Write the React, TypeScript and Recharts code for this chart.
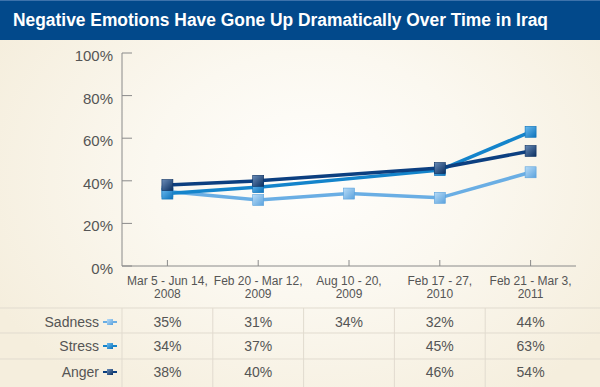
import React from "react";
import { LineChart, Line, XAxis, YAxis } from "recharts";

const TITLE = "Negative Emotions Have Gone Up Dramatically Over Time in Iraq";
const categoryDates = ["Mar 5 - Jun 14,", "Feb 20 - Mar 12,", "Aug 10 - 20,", "Feb 17 - 27,", "Feb 21 - Mar 3,"];
const categoryYears = ["2008", "2009", "2009", "2010", "2011"];
const seriesNames = ["Sadness", "Stress", "Anger"];
const sadness = [35, 31, 34, 32, 44];
const stress = [34, 37, null, 45, 63];
const anger = [38, 40, null, 46, 54];
const yTicks = [0, 20, 40, 60, 80, 100];

const seriesValues = [sadness, stress, anger];
const seriesKeys = ["sadness", "stress", "anger"];
const lineColors = ["#6aaee4", "#1484cb", "#0c3f80"];
const gradTop = ["#b9dcf7", "#6dbcf0", "#6a8cb8"];
const gradBottom = ["#5aa2dd", "#0c72ba", "#0a2f60"];

const data = categoryDates.map((d, i) => ({
  cat: d + " " + categoryYears[i],
  sadness: sadness[i],
  stress: stress[i],
  anger: anger[i],
}));

const W = 600;
const H = 387;
const PLOT_LEFT = 122;
const PLOT_RIGHT = 576;
const PLOT_TOP = 53;
const AXIS_Y = 266;
const BAND = (PLOT_RIGHT - PLOT_LEFT) / categoryDates.length;
const ROW_LINES = [308, 333, 359];
const ROW_CENTERS = [322, 346, 372];
const AXIS_COLOR = "#8a8a8a";
const GRID_COLOR = "#e1dbcf";
const TEXT_COLOR = "#555555";
const FONT = "'Liberation Sans', Arial, Helvetica, sans-serif";
const Y_AXIS_W = 60;
const X_AXIS_H = 30;

const XTick = (props: any) => {
  const { x, index } = props;
  const i = index;
  return (
    <g>
      <line x1={x} x2={x} y1={AXIS_Y} y2={AXIS_Y - 6} stroke={AXIS_COLOR} strokeWidth={1} />
      <text x={x} y={285} textAnchor="middle" fontSize={12} fill={TEXT_COLOR} fontFamily={FONT}>
        {categoryDates[i]}
      </text>
      <text x={x} y={298} textAnchor="middle" fontSize={12} fill={TEXT_COLOR} fontFamily={FONT}>
        {categoryYears[i]}
      </text>
      <line x1={x - BAND / 2} x2={x - BAND / 2} y1={ROW_LINES[0]} y2={H} stroke={GRID_COLOR} strokeWidth={1} />
      {seriesValues.map((vals, r) =>
        vals[i] == null ? null : (
          <text key={r} x={x} y={ROW_CENTERS[r] + 5} textAnchor="middle" fontSize={14} fill={TEXT_COLOR} fontFamily={FONT}>
            {vals[i]}%
          </text>
        )
      )}
    </g>
  );
};

const YTick = (props: any) => {
  const { y, payload } = props;
  return (
    <g>
      <line x1={PLOT_LEFT} x2={PLOT_LEFT + 10} y1={y} y2={y} stroke={AXIS_COLOR} strokeWidth={1} />
      <text x={113} y={y + 8} textAnchor="end" fontSize={15} fill={TEXT_COLOR} fontFamily={FONT}>
        {payload.value}%
      </text>
    </g>
  );
};

const makeDot = (s: number) => (p: any) => {
  const { cx, cy, index, value } = p;
  if (value == null || cx == null || cy == null) return <g key={index} />;
  return (
    <rect
      key={index}
      x={cx - 5.5}
      y={cy - 5.5}
      width={11}
      height={11}
      fill={`url(#mk${s})`}
      stroke={gradBottom[s]}
      strokeWidth={0.6}
    />
  );
};

export default function App() {
  return (
    <div
      style={{
        position: "absolute",
        left: 0,
        top: 0,
        width: W,
        height: H,
        overflow: "hidden",
        background:
          "radial-gradient(ellipse 60% 70% at 52% 45%, #fffefc 0%, #fbf8f0 45%, #f5eedd 100%)",
      }}
    >
      <svg width={0} height={0} style={{ position: "absolute" }}>
        <defs>
          {seriesNames.map((_, s) => (
            <linearGradient key={s} id={`mk${s}`} x1="0" y1="0" x2="1" y2="1">
              <stop offset="0%" stopColor={gradTop[s]} />
              <stop offset="100%" stopColor={gradBottom[s]} />
            </linearGradient>
          ))}
        </defs>
      </svg>
      <svg width={W} height={H} style={{ position: "absolute", left: 0, top: 0 }}>
        <rect x={0} y={0} width={W} height={40} fill="#02498b" />
        <rect x={0} y={0} width={W} height={1} fill="#3d72ab" />
        <text
          x={13}
          y={26}
          fill="#ffffff"
          fontSize={18}
          fontWeight="bold"
          fontFamily={FONT}
          textLength={535}
          lengthAdjust="spacingAndGlyphs"
        >
          {TITLE}
        </text>
        {ROW_LINES.map((y, k) => (
          <line key={k} x1={0} x2={W} y1={y} y2={y} stroke={GRID_COLOR} strokeWidth={1} />
        ))}
        {seriesNames.map((n, s) => (
          <g key={n}>
            <text x={99} y={ROW_CENTERS[s] + 5} textAnchor="end" fontSize={14} fill={TEXT_COLOR} fontFamily={FONT}>
              {n}
            </text>
            <line x1={103} x2={117} y1={ROW_CENTERS[s]} y2={ROW_CENTERS[s]} stroke={lineColors[s]} strokeWidth={2} />
            <rect x={107} y={ROW_CENTERS[s] - 3} width={6} height={6} fill={`url(#mk${s})`} />
          </g>
        ))}
      </svg>
      <div style={{ position: "absolute", left: 0, top: 0 }}>
        <LineChart
          width={W}
          height={H}
          data={data}
          margin={{
            top: PLOT_TOP,
            right: W - PLOT_RIGHT,
            bottom: H - AXIS_Y - X_AXIS_H,
            left: PLOT_LEFT - Y_AXIS_W,
          }}
        >
          <XAxis
            dataKey="cat"
            height={X_AXIS_H}
            interval={0}
            padding={{ left: BAND / 2, right: BAND / 2 }}
            tickLine={false}
            tickSize={0}
            stroke={AXIS_COLOR}
            tick={<XTick />}
          />
          <YAxis
            width={Y_AXIS_W}
            domain={[0, 100]}
            ticks={yTicks}
            interval={0}
            tickLine={false}
            tickSize={0}
            stroke={AXIS_COLOR}
            tick={<YTick />}
          />
          {seriesKeys.map((k, s) => (
            <Line
              key={k}
              dataKey={k}
              type="linear"
              stroke={lineColors[s]}
              strokeWidth={3.5}
              connectNulls
              isAnimationActive={false}
              dot={makeDot(s)}
              activeDot={false}
            />
          ))}
        </LineChart>
      </div>
    </div>
  );
}
